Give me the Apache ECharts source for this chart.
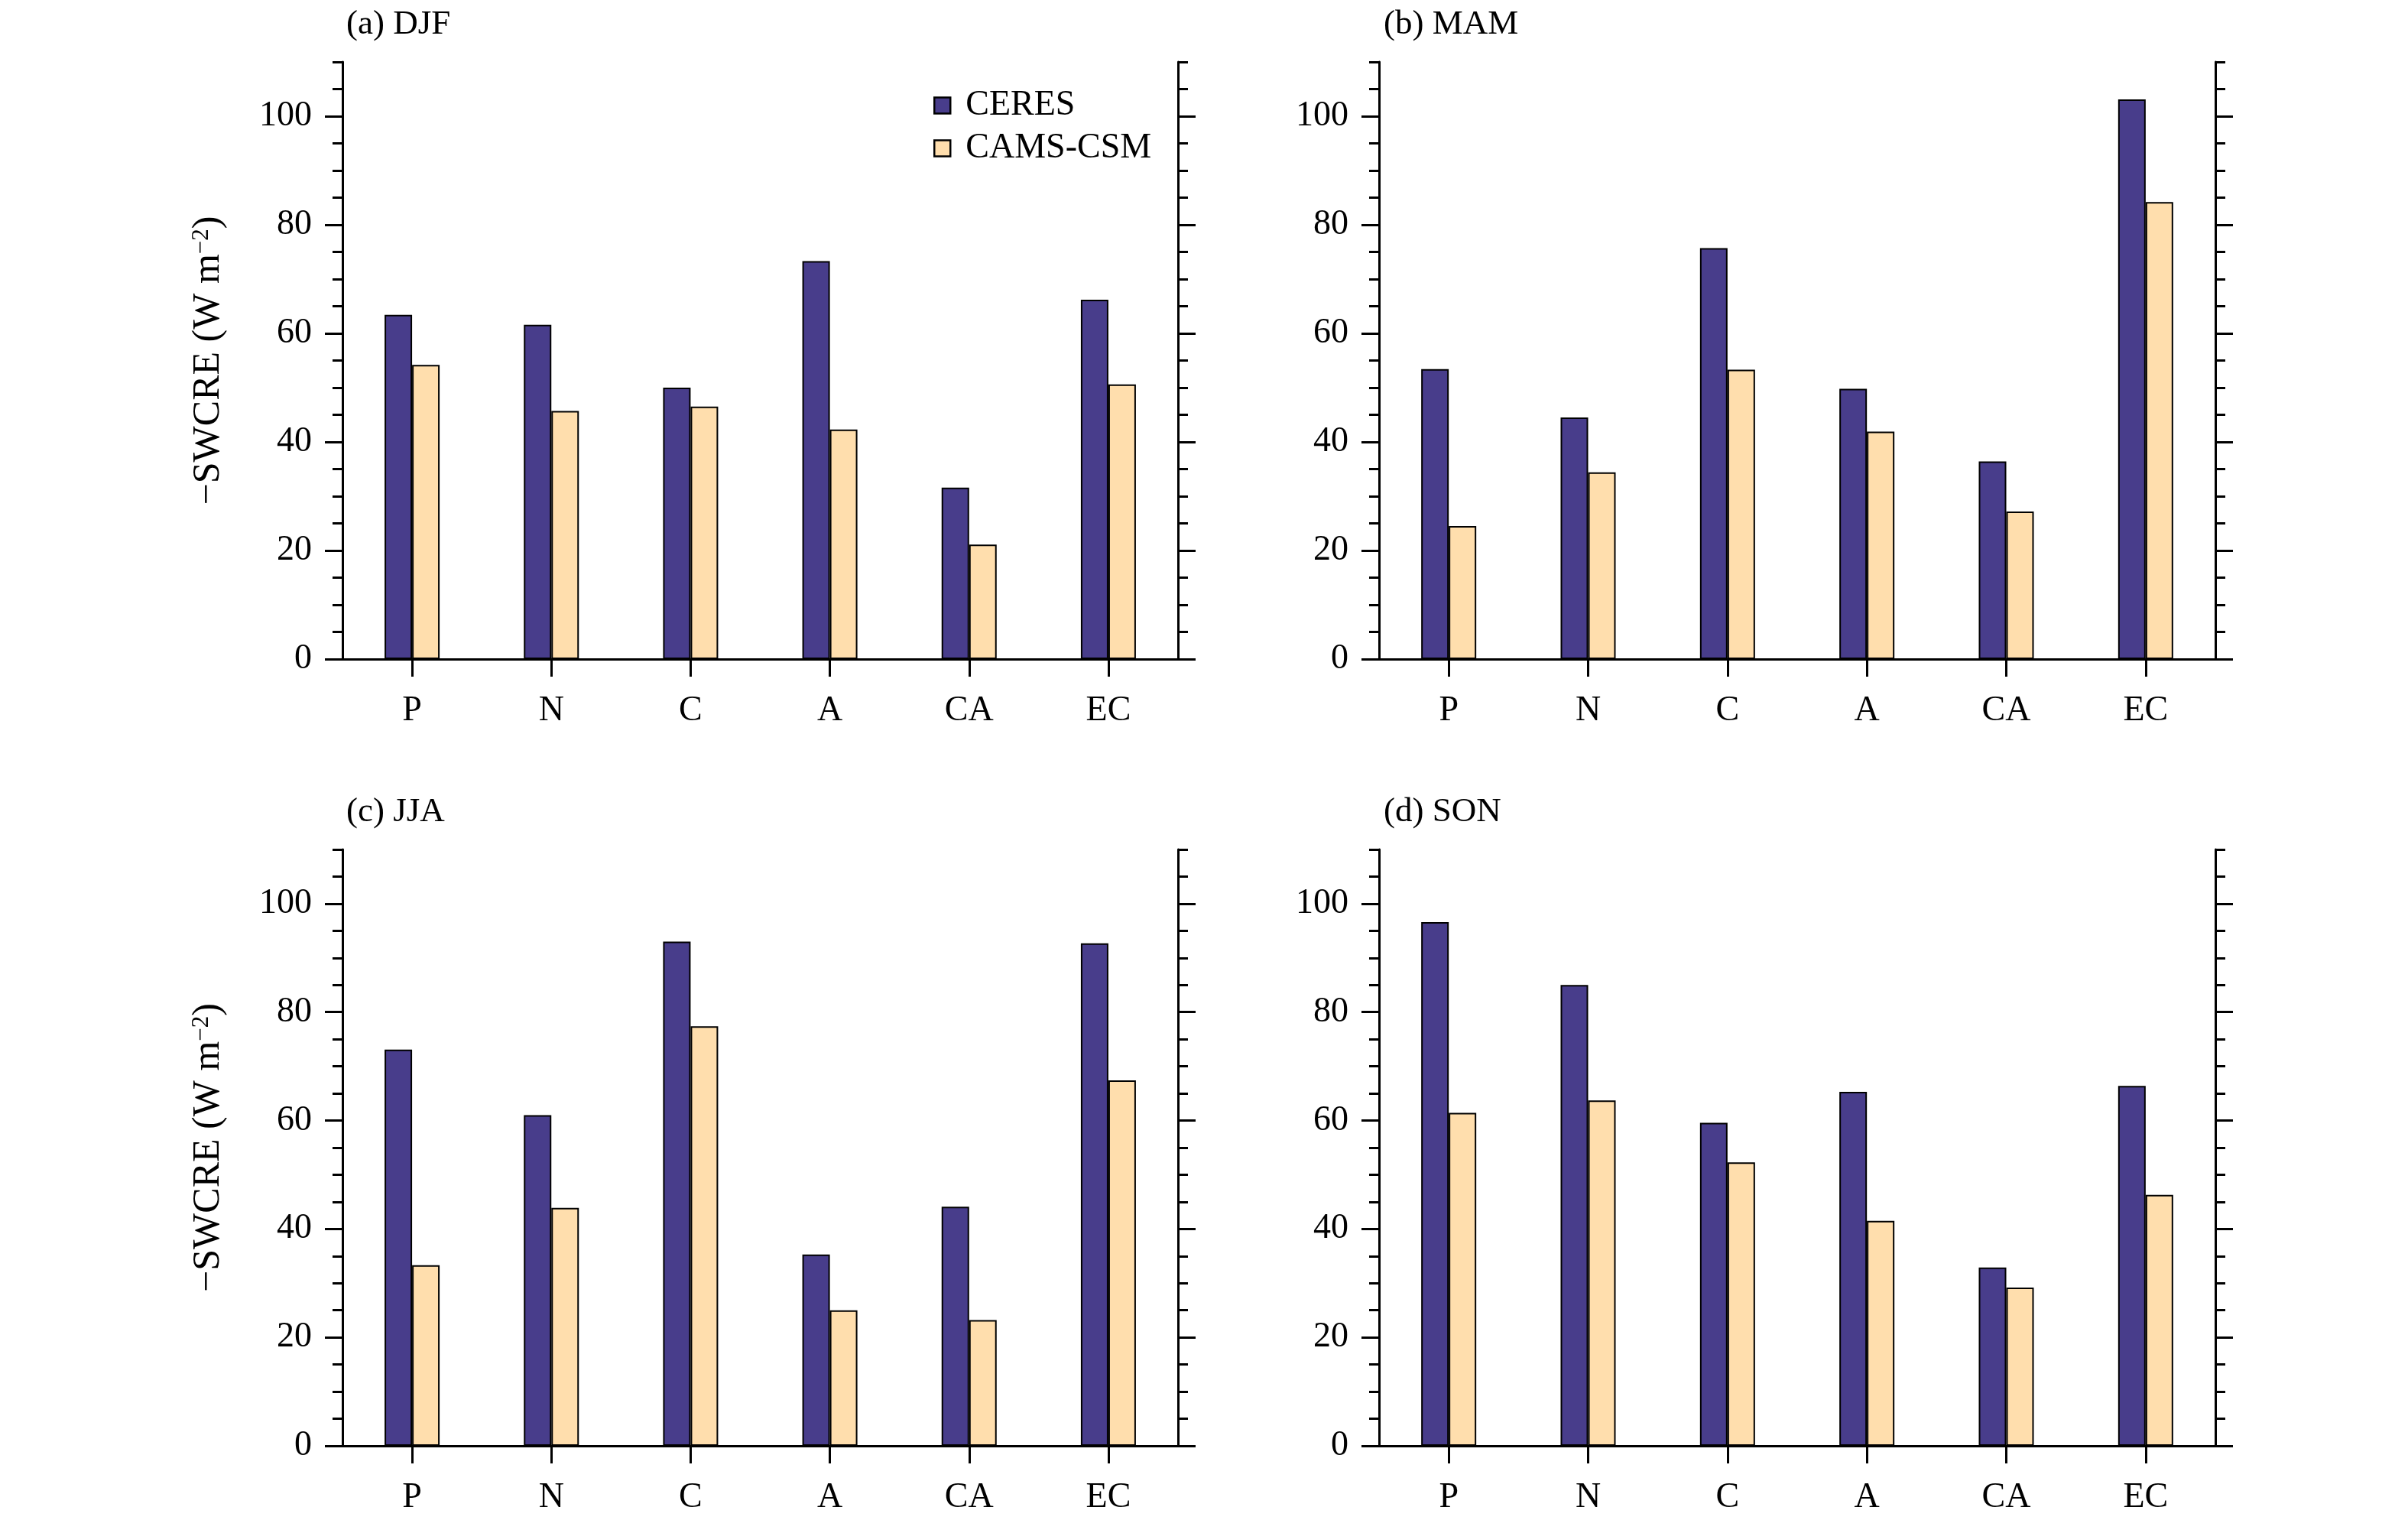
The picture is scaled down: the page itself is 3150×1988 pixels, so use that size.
<!DOCTYPE html>
<html>
<head>
<meta charset="utf-8">
<script src="https://cdn.jsdelivr.net/npm/echarts@6/dist/echarts.min.js"></script>
<style>
html,body{margin:0;padding:0;background:#fff;}
#chart{width:3150px;height:1988px;}
</style>
</head>
<body>
<div id="chart"></div>
<script>
const categories = ['P', 'N', 'C', 'A', 'CA', 'EC'];
const seriesNames = ['CERES', 'CAMS-CSM'];
const panelTitles = ['(a) DJF', '(b) MAM', '(c) JJA', '(d) SON'];
const ceresDJF = [63.4, 61.6, 50.0, 73.3, 31.6, 66.2];
const camsDJF  = [54.2, 45.7, 46.5, 42.3, 21.1, 50.6];
const ceresMAM = [53.4, 44.5, 75.7, 49.8, 36.4, 103.1];
const camsMAM  = [24.5, 34.4, 53.3, 41.9, 27.2, 84.2];
const ceresJJA = [73.1, 61.0, 93.0, 35.3, 44.1, 92.7];
const camsJJA  = [33.3, 43.9, 77.4, 25.0, 23.2, 67.4];
const ceresSON = [96.6, 85.0, 59.6, 65.3, 32.9, 66.4];
const camsSON  = [61.4, 63.7, 52.3, 41.5, 29.2, 46.3];
const yMajorTicks = [0, 20, 40, 60, 80, 100];
const yMinorTicks = [5, 10, 15, 25, 30, 35, 45, 50, 55, 65, 70, 75, 85, 90, 95, 105, 110];
const yName = '\u2212SWCRE (W m{sup|\u22122})';

const panelData = [
  [ceresDJF, camsDJF],
  [ceresMAM, camsMAM],
  [ceresJJA, camsJJA],
  [ceresSON, camsSON]
];

const FONT = 'Liberation Serif';
const colors = ['#483D8B', '#FFDEAD'];
const grids = [
  {left: 448, top: 81, width: 1093, height: 781},
  {left: 1804, top: 81, width: 1094, height: 781},
  {left: 448, top: 1111, width: 1093, height: 780},
  {left: 1804, top: 1111, width: 1094, height: 780}
];
const titlePos = [
  {left: 448, top: 5},
  {left: 1805, top: 5},
  {left: 448, top: 1035},
  {left: 1805, top: 1035}
];

const xAxes = [], yAxes = [], series = [], titles = [];
grids.forEach((g, i) => {
  titles.push({
    text: panelTitles[i], left: titlePos[i].left, top: titlePos[i].top,
    textStyle: {fontFamily: FONT, fontSize: 45, fontWeight: 'normal', color: '#000'}
  });
  xAxes.push({
    gridIndex: i, type: 'category', data: categories, position: 'bottom',
    axisLine: {show: true, lineStyle: {color: '#000', width: 3}},
    axisTick: {show: true, alignWithLabel: true, inside: false, length: 23, lineStyle: {color: '#000', width: 3}},
    axisLabel: {show: true, margin: 45, fontFamily: FONT, fontSize: 46, color: '#000'},
    splitLine: {show: false}
  });
  xAxes.push({
    gridIndex: i, type: 'category', data: categories, position: 'top',
    axisLine: {show: true, lineStyle: {color: '#000', width: 3}},
    axisTick: {show: false}, axisLabel: {show: false}, splitLine: {show: false}
  });
  const base = {gridIndex: i, type: 'value', min: 0, max: 110, interval: 5, splitLine: {show: false}};
  yAxes.push(Object.assign({}, base, {
    position: 'left',
    name: (i % 2 === 0) ? yName : '',
    nameLocation: 'middle', nameGap: 150, nameRotate: 90,
    nameTextStyle: {fontFamily: FONT, fontSize: 50, color: '#000',
      rich: {sup: {fontFamily: FONT, fontSize: 31, color: '#000', verticalAlign: 'top'}}},
    axisLine: {show: true, lineStyle: {color: '#000', width: 3}},
    axisTick: {show: true, inside: false, length: 23, customValues: yMajorTicks, lineStyle: {color: '#000', width: 3}},
    axisLabel: {show: true, margin: 40, customValues: yMajorTicks, fontFamily: FONT, fontSize: 46, color: '#000'}
  }));
  yAxes.push(Object.assign({}, base, {
    position: 'left',
    axisLine: {show: false},
    axisTick: {show: true, inside: false, length: 13, customValues: yMinorTicks, lineStyle: {color: '#000', width: 3}},
    axisLabel: {show: false}
  }));
  yAxes.push(Object.assign({}, base, {
    position: 'right',
    axisLine: {show: true, lineStyle: {color: '#000', width: 3}},
    axisTick: {show: true, inside: false, length: 23, customValues: yMajorTicks, lineStyle: {color: '#000', width: 3}},
    axisLabel: {show: false}
  }));
  yAxes.push(Object.assign({}, base, {
    position: 'right',
    axisLine: {show: false},
    axisTick: {show: true, inside: false, length: 13, customValues: yMinorTicks, lineStyle: {color: '#000', width: 3}},
    axisLabel: {show: false}
  }));
  panelData[i].forEach((vals, s) => {
    series.push({
      name: seriesNames[s], type: 'bar', xAxisIndex: 2 * i, yAxisIndex: 4 * i,
      data: vals, barWidth: 36, barGap: '0%',
      itemStyle: {color: colors[s], borderColor: '#000', borderWidth: 2},
      emphasis: {disabled: true}
    });
  });
});

const chart = echarts.init(document.getElementById('chart'), null, {renderer: 'canvas'});
chart.setOption({
  backgroundColor: '#fff',
  animation: false,
  title: titles,
  legend: {
    data: seriesNames, orient: 'vertical', left: 1216, top: 110,
    itemWidth: 21, itemHeight: 21, itemGap: 10, icon: 'rect',
    itemStyle: {borderColor: '#000', borderWidth: 2.5},
    textStyle: {fontFamily: FONT, fontSize: 46, color: '#000', lineHeight: 46, padding: [0, 0, 0, 15]},
    selectedMode: false
  },
  grid: grids,
  xAxis: xAxes,
  yAxis: yAxes,
  series: series
});
</script>
</body>
</html>
